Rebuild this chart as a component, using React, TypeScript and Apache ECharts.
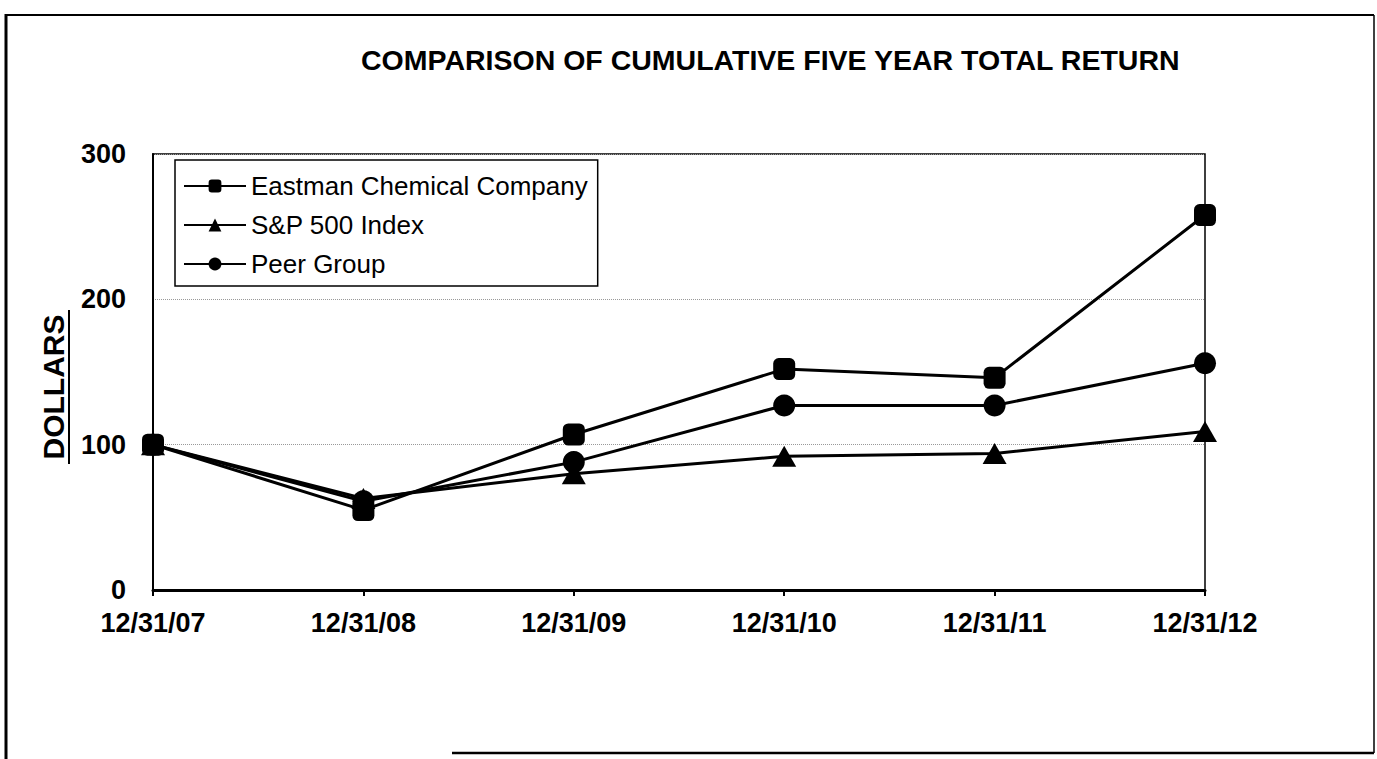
import React, { useEffect, useRef } from "react";
import * as echarts from "echarts";

const categories = ["12/31/07", "12/31/08", "12/31/09", "12/31/10", "12/31/11", "12/31/12"];
const eastman = [100, 55, 107, 152, 146, 258];
const sp500 = [100, 63, 80, 92, 94, 109];
const peer = [100, 61, 88, 127, 127, 156];
const seriesNames = ["Eastman Chemical Company", "S&P 500 Index", "Peer Group"];
const yTicks = { min: 0, max: 300, interval: 100 };
const titleText = "COMPARISON OF CUMULATIVE FIVE YEAR TOTAL RETURN";
const yAxisTitle = "DOLLARS";

const FONT = "'Liberation Sans', Arial, Helvetica, sans-serif";

export default function App() {
  const ref = useRef<HTMLDivElement>(null);
  useEffect(() => {
    if (!ref.current) return;
    const chart = echarts.init(ref.current, null, { renderer: "svg" });
    const lineStyle = { color: "#000", width: 3 };
    chart.setOption({
      animation: false,
      backgroundColor: "#fff",
      title: {
        text: titleText,
        left: 356,
        top: 40,
        textStyle: { fontFamily: FONT, fontWeight: "bold", fontSize: 28.5, color: "#000" },
      },
      legend: {
        orient: "vertical",
        left: 175,
        top: 160,
        padding: [13, 10, 9, 8],
        itemWidth: 62,
        itemHeight: 16,
        itemGap: 13,
        borderColor: "#000",
        borderWidth: 1.5,
        data: seriesNames,
        lineStyle: { width: 2 },
        textStyle: { fontFamily: FONT, fontSize: 26, color: "#000", lineHeight: 22 },
      },
      grid: {
        left: 153,
        right: 172,
        top: 154,
        bottom: 169,
        show: true,
        borderColor: "#000",
        borderWidth: 1.5,
        backgroundColor: "transparent",
      },
      xAxis: {
        type: "category",
        data: categories,
        boundaryGap: false,
        axisLine: { lineStyle: { color: "#000", width: 3 } },
        axisTick: { show: true, length: 6, lineStyle: { color: "#000", width: 2 } },
        axisLabel: {
          fontFamily: FONT,
          fontWeight: "bold",
          fontSize: 27,
          color: "#000",
          margin: 19,
          showMinLabel: true,
          showMaxLabel: true,
          interval: 0,
        },
        splitLine: { show: false },
      },
      yAxis: {
        type: "value",
        min: yTicks.min,
        max: yTicks.max,
        interval: yTicks.interval,
        axisLine: { show: true, lineStyle: { color: "#000", width: 2 } },
        axisTick: { show: false },
        axisLabel: { fontFamily: FONT, fontWeight: "bold", fontSize: 27, color: "#000", margin: 27 },
        splitLine: { show: true, lineStyle: { color: "#999", width: 1, type: "dotted" } },
      },
      graphic: [
        { type: "line", shape: { x1: 6, y1: 14, x2: 6, y2: 759 }, style: { stroke: "#000", lineWidth: 3 } },
        { type: "line", shape: { x1: 6, y1: 15, x2: 1374, y2: 15 }, style: { stroke: "#000", lineWidth: 2 } },
        { type: "line", shape: { x1: 1374, y1: 15, x2: 1374, y2: 753 }, style: { stroke: "#000", lineWidth: 1.5 } },
        { type: "line", shape: { x1: 452, y1: 753, x2: 1374, y2: 753 }, style: { stroke: "#000", lineWidth: 2.5 } },
        {
          type: "text",
          x: 53,
          y: 387,
          rotation: Math.PI / 2,
          style: {
            text: yAxisTitle,
            fontFamily: FONT,
            fontWeight: "bold",
            fontSize: 30,
            fill: "#000",
            textAlign: "center",
            textVerticalAlign: "middle",
          },
        },
        { type: "line", shape: { x1: 69, y1: 310, x2: 69, y2: 464 }, style: { stroke: "#000", lineWidth: 2 } },
      ],
      series: [
        {
          name: seriesNames[0],
          type: "line",
          data: eastman,
          z: 4,
          symbol: "roundRect",
          symbolSize: 22,
          lineStyle,
          itemStyle: { color: "#000" },
        },
        {
          name: seriesNames[1],
          type: "line",
          data: sp500,
          z: 2,
          symbol: "triangle",
          symbolSize: [24, 21],
          lineStyle,
          itemStyle: { color: "#000" },
        },
        {
          name: seriesNames[2],
          type: "line",
          data: peer,
          z: 3,
          symbol: "circle",
          symbolSize: 22,
          lineStyle,
          itemStyle: { color: "#000" },
        },
      ],
    });
    return () => chart.dispose();
  }, []);
  return (
    <div
      ref={ref}
      style={{ position: "fixed", left: 0, top: 0, width: 1377, height: 759, background: "#fff" }}
    />
  );
}
